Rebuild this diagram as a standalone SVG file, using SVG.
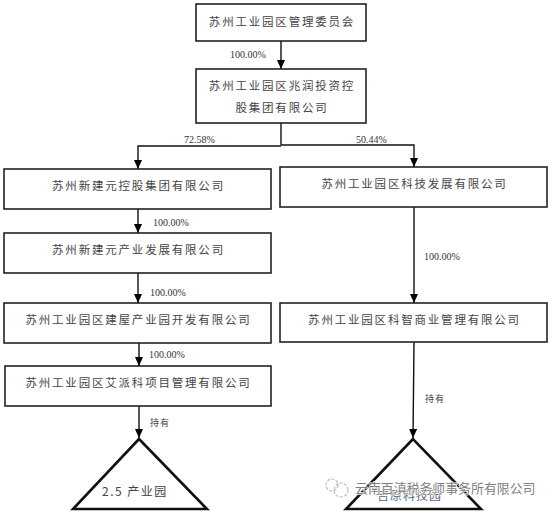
<svg xmlns="http://www.w3.org/2000/svg" width="554" height="513" viewBox="0 0 554 513">
<defs>
<marker id="arr" markerUnits="userSpaceOnUse" markerWidth="10" markerHeight="9" refX="9" refY="4" orient="auto"><path d="M0 0L9 4L0 8z" fill="#000"/></marker>
</defs>
<style>
text{font-family:"Noto Sans CJK SC","Liberation Serif",serif;fill:#444}
.b rect{fill:#fff;stroke:#222;stroke-width:1.6}
.n{font-size:11.5px;text-anchor:middle;letter-spacing:1.8px}
.p{font-family:"Liberation Serif",serif;font-size:10px;fill:#333}
.h{font-size:9px;letter-spacing:1px}
.c path{fill:none;stroke:#111;stroke-width:1.4;marker-end:url(#arr)}
.c path.t{marker-end:none}
.tri{fill:#fff;stroke:#111;stroke-width:2.6}
.wm circle{fill:none;stroke:#bbb;stroke-width:1.2;stroke-dasharray:3 1.5}
</style>
<rect width="554" height="513" fill="#fff"/>
<g class="c" id="connectors">
<path d="M281 41V69"/>
<path class="t" d="M281 123V145"/>
<path d="M281 146H138V169"/>
<path d="M281 145H414V167"/>
<path d="M138 209V233"/>
<path d="M138 273V303"/>
<path d="M139 343V366"/>
<path d="M139 406V438"/>
<path d="M414 207V303"/>
<path d="M414 342L413 438"/>
</g>
<g class="b" id="n1"><rect x="196" y="4" width="170" height="37"/><text class="n" x="282" y="25.500">苏州工业园区管理委员会</text></g>
<g class="b" id="n2"><rect x="196" y="69" width="170" height="54"/><text class="n" x="282" y="89.500">苏州工业园区兆润投资控</text><text class="n" x="282" y="111.500">股集团有限公司</text></g>
<g class="b" id="n3"><rect x="4" y="169" width="267" height="40"/><text class="n" x="138.500" y="189.500">苏州新建元控股集团有限公司</text></g>
<g class="b" id="n4"><rect x="4" y="233" width="267" height="40"/><text class="n" x="138.500" y="253.500">苏州新建元产业发展有限公司</text></g>
<g class="b" id="n5"><rect x="4" y="303" width="267" height="40"/><text class="n" x="138.500" y="323.500">苏州工业园区建屋产业园开发有限公司</text></g>
<g class="b" id="n6"><rect x="5" y="366" width="266" height="40"/><text class="n" x="138.500" y="386.500">苏州工业园区艾派科项目管理有限公司</text></g>
<g class="b" id="n7"><rect x="280" y="167" width="267" height="40"/><text class="n" x="414.500" y="187.500">苏州工业园区科技发展有限公司</text></g>
<g class="b" id="n8"><rect x="280" y="303" width="267" height="39"/><text class="n" x="414.500" y="323.500">苏州工业园区科智商业管理有限公司</text></g>
<g id="t1"><path class="tri" d="M139 439L73 509H207z"/><text x="102" y="496" font-size="12" letter-spacing="1.500">2.5 产业园</text></g>
<g id="t2"><path class="tri" d="M413 439L346 509H481z"/><text x="377" y="500" font-size="12" letter-spacing="1" style="fill:#566a80">吉原科技园</text></g>
<g id="labels">
<text class="p" x="230" y="58">100.00%</text>
<text class="p" x="184" y="143">72.58%</text>
<text class="p" x="356" y="143">50.44%</text>
<text class="p" x="153" y="226">100.00%</text>
<text class="p" x="424" y="260">100.00%</text>
<text class="p" x="150" y="296">100.00%</text>
<text class="p" x="149" y="358">100.00%</text>
<text class="h" x="150" y="426">持有</text>
<text class="h" x="425" y="402">持有</text>
</g>
<g class="wm" id="watermark">
<circle cx="332" cy="485" r="6"/>
<circle cx="341" cy="490" r="7"/>
<text x="355" y="493" font-size="12.900" style="fill:#808080;stroke:#fff;stroke-width:1.200px;paint-order:stroke">云南百滇税务师事务所有限公司</text>
</g>
</svg>
